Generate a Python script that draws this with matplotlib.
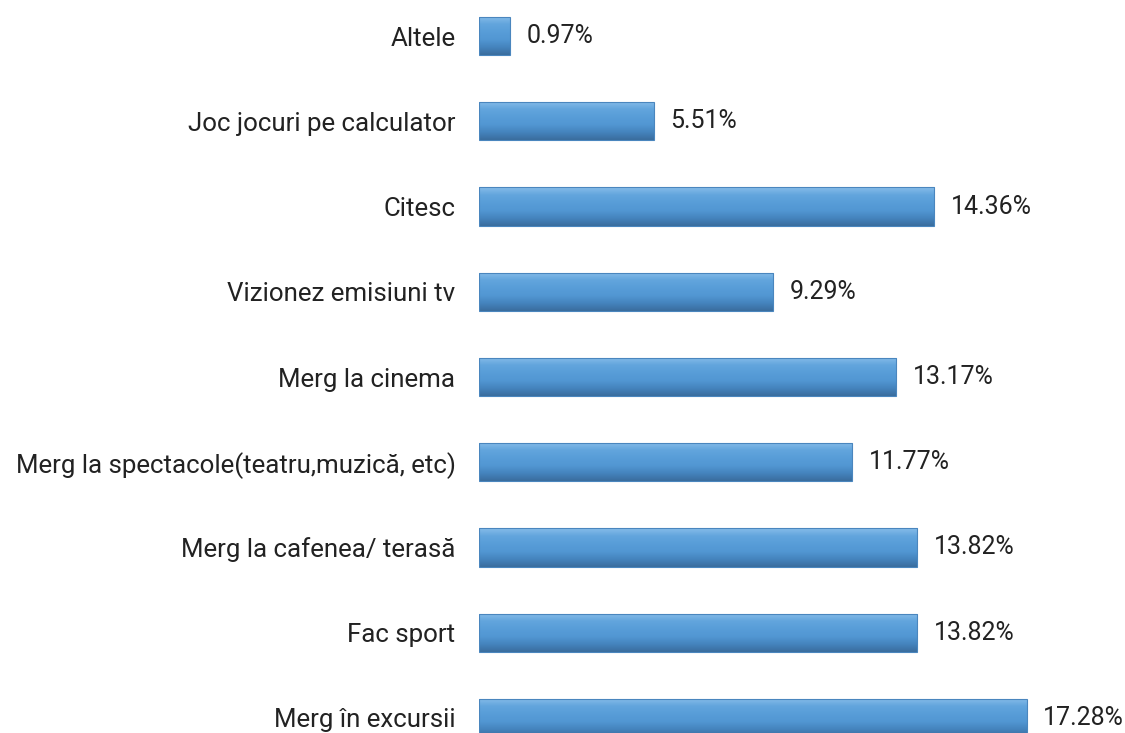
import numpy as np
import matplotlib.pyplot as plt
from matplotlib.colors import LinearSegmentedColormap

categorii = ['Merg în excursii', 'Fac sport', 'Merg la cafenea/ terasă',
             'Merg la spectacole(teatru,muzică, etc)', 'Merg la cinema',
             'Vizionez emisiuni tv', 'Citesc', 'Joc jocuri pe calculator', 'Altele']
procente = [17.28, 13.82, 13.82, 11.77, 13.17, 9.29, 14.36, 5.51, 0.97]

plt.rcParams['font.family'] = ['Roboto', 'DejaVu Sans']

fig = plt.figure(figsize=(11.25, 7.33), dpi=100)
ax = fig.add_axes([479 / 1125, 0, 646 / 1125, 1])

y = np.arange(len(categorii))
bars = ax.barh(y, procente, height=0.45, color='#5499D6', edgecolor='none')

# gradient to imitate the bevelled bars (top -> bottom)
cmap = LinearSegmentedColormap.from_list('bev', ['#86BCE9', '#62A5DD', '#589DD8', '#5297D3', '#4584BE', '#3A6D9E'])
grad = np.linspace(0, 1, 64).reshape(-1, 1)
for b in bars:
    x0, y0 = b.get_x(), b.get_y()
    w, h = b.get_width(), b.get_height()
    im = ax.imshow(grad, extent=[x0, x0 + w, y0, y0 + h], cmap=cmap,
                   aspect='auto', origin='upper', zorder=2)
    im.set_clip_path(b)
    ax.add_patch(plt.Rectangle((x0, y0), w, h, fill=False, edgecolor='#4A86BE', linewidth=0.8, zorder=3))

for b, v in zip(bars, procente):
    ax.text(b.get_width() + 0.52, b.get_y() + b.get_height() / 2, f'{v:.2f}%',
            va='center', ha='left', fontsize=18, color='#222222')

ax.set_xlim(0, 646 / 31.7)
ax.set_ylim(-15 / 85.25, (733 - 15) / 85.25)
ax.set_yticks(y)
ax.set_yticklabels(categorii, fontsize=18.6, color='#222222')
ax.tick_params(axis='y', length=0, pad=17)
ax.set_xticks([])
for s in ax.spines.values():
    s.set_visible(False)

fig.savefig('out.png', dpi=100)
